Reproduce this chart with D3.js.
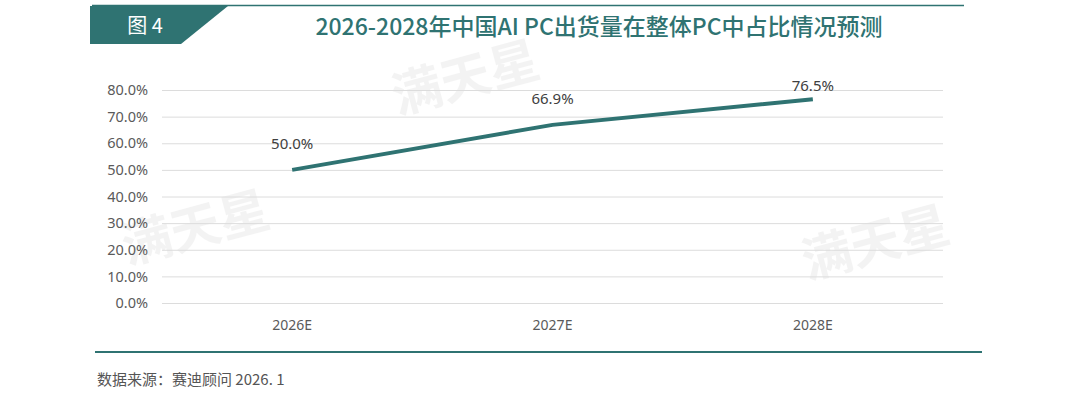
<!DOCTYPE html>
<html>
<head>
<meta charset="utf-8">
<script src="https://cdn.jsdelivr.net/npm/d3@7"></script>
<style>
  body { margin: 0; background: #fff; }
  svg { display: block; font-family: "Noto Sans CJK SC", "Noto Sans", sans-serif; }
</style>
</head>
<body>
<script>
// 2026-2028 AI PC share forecast
var years = ["2026E", "2027E", "2028E"];
var share = [50.0, 66.9, 76.5];
var yTicks = [0, 10, 20, 30, 40, 50, 60, 70, 80];

var width = 1080;
var height = 406;
var margin = {top: 90, right: 137, bottom: 103, left: 162};
var teal = "#2f7372";

var svg = d3.select("body")
  .append("svg")
  .attr("width", width)
  .attr("height", height);

// header rule + badge
svg.append("line")
  .attr("x1", 92).attr("x2", 964)
  .attr("y1", 5.5).attr("y2", 5.5)
  .attr("stroke", teal)
  .attr("stroke-width", 1.5);

svg.append("path")
  .attr("d", "M90,6 L228,6 L181,44 L90,44 Z")
  .attr("fill", teal);

svg.append("text")
  .attr("x", 145).attr("y", 33)
  .attr("text-anchor", "middle")
  .attr("fill", "#fff")
  .style("font-size", "20px")
  .text("图 4");

svg.append("text")
  .attr("x", 599).attr("y", 35)
  .attr("text-anchor", "middle")
  .attr("fill", teal)
  .style("font-size", "23px")
  .style("font-weight", "500")
  .text("2026-2028年中国AI PC出货量在整体PC中占比情况预测");

// watermarks
[[200, 245], [880, 260], [470, 95]].forEach(function (p) {
  var w = svg.append("g")
    .attr("transform", "translate(" + p[0] + "," + p[1] + ") rotate(-15)")
    .attr("opacity", 0.045);
  w.append("text")
    .attr("text-anchor", "middle")
    .attr("fill", "#000")
    .style("font-size", "50px")
    .style("font-weight", "bold")
    .text("满天星");
});

var g = svg.append("g")
  .attr("transform", "translate(" + margin.left + "," + margin.top + ")");

var w = width - margin.left - margin.right;
var h = height - margin.top - margin.bottom;

var x = d3.scaleBand()
  .domain(years)
  .range([0, w]);

var y = d3.scaleLinear()
  .domain([0, 80])
  .range([h, 0]);

// gridlines
g.append("g")
  .selectAll("line")
  .data(yTicks)
  .enter()
  .append("line")
  .attr("x1", 0).attr("x2", w)
  .attr("y1", function (d) { return y(d) + 0.5; })
  .attr("y2", function (d) { return y(d) + 0.5; })
  .attr("stroke", "#dcdcdc")
  .attr("stroke-width", 1);

var yAxis = g.append("g")
  .call(d3.axisLeft(y).tickValues(yTicks).tickSize(0).tickPadding(14)
    .tickFormat(function (d) { return d.toFixed(1) + "%"; }));
yAxis.select(".domain").remove();
yAxis.selectAll("text")
  .attr("fill", "#5a5a5a")
  .style("font-size", "14.5px")
  .style("font-family", "Noto Sans, sans-serif");

var xAxis = g.append("g")
  .attr("transform", "translate(0," + h + ")")
  .call(d3.axisBottom(x).tickSize(0).tickPadding(17));
xAxis.select(".domain").remove();
xAxis.selectAll("text")
  .attr("fill", "#5a5a5a")
  .style("font-size", "14px")
  .style("font-family", "Noto Sans, sans-serif");

var pts = years.map(function (d, i) { return {year: d, v: share[i]}; });

var line = d3.line()
  .x(function (d) { return x(d.year) + x.bandwidth() / 2; })
  .y(function (d) { return y(d.v); });

g.append("path")
  .datum(pts)
  .attr("d", line)
  .attr("fill", "none")
  .attr("stroke", teal)
  .attr("stroke-width", 4);

// labels above points, kept inside the plot area
g.selectAll(".lbl")
  .data(pts)
  .enter()
  .append("text")
  .attr("class", "lbl")
  .attr("x", function (d) { return x(d.year) + x.bandwidth() / 2; })
  .attr("y", function (d) { return Math.max(y(d.v) - 21, 1); })
  .attr("text-anchor", "middle")
  .attr("fill", "#404040")
  .style("font-size", "15px")
  .style("font-family", "Noto Sans, sans-serif")
  .text(function (d) { return d.v.toFixed(1) + "%"; });

// bottom rule + source
svg.append("line")
  .attr("x1", 95).attr("x2", 982)
  .attr("y1", 352).attr("y2", 352)
  .attr("stroke", teal)
  .attr("stroke-width", 2);

svg.append("text")
  .attr("x", 97).attr("y", 385)
  .attr("fill", "#555")
  .style("font-size", "15px")
  .text("数据来源：赛迪顾问 2026. 1");
</script>
</body>
</html>
